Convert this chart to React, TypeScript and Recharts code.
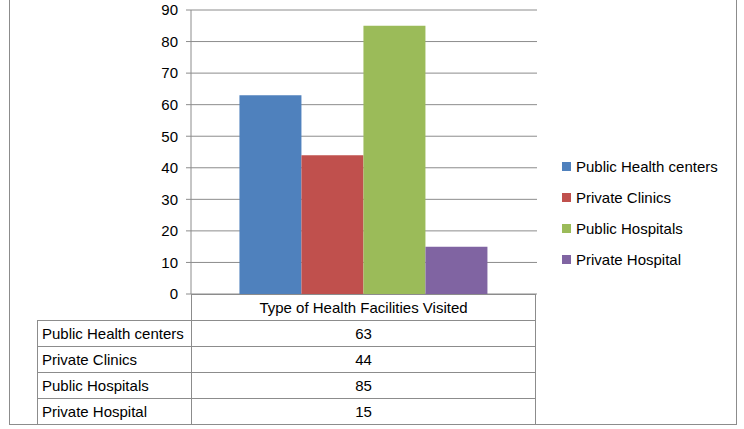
import { Bar, BarChart, CartesianGrid, XAxis, YAxis } from "recharts";

const categories = ["Type of Health Facilities Visited"];
const seriesNames = ["Public Health centers", "Private Clinics", "Public Hospitals", "Private Hospital"];
const seriesValues = [63, 44, 85, 15];
const seriesColors = ["#4F81BD", "#C0504D", "#9BBB59", "#8064A2"];
const yTicks = [0, 10, 20, 30, 40, 50, 60, 70, 80, 90];

const data = categories.map((name) => {
  const row: Record<string, string | number> = { name };
  seriesNames.forEach((s, i) => {
    row[s] = seriesValues[i];
  });
  return row;
});

const FONT = "'Liberation Sans', Arial, sans-serif";
const GRAY = "#8c8c8c";

function LegendBox() {
  return (
    <div style={{ position: "absolute", left: 562, top: 151, fontFamily: FONT, fontSize: 15, color: "#000" }}>
      {seriesNames.map((s, i) => (
        <div key={s} style={{ display: "flex", alignItems: "center", height: 31 }}>
          <span style={{ width: 9, height: 9, background: seriesColors[i], marginRight: 5 }} />
          <span>{s}</span>
        </div>
      ))}
    </div>
  );
}

export default function App() {
  const cell = { position: "absolute" as const, boxSizing: "border-box" as const, fontFamily: FONT, fontSize: 15, display: "flex", alignItems: "center" };
  return (
    <div style={{ position: "absolute", left: 0, top: 0, width: 744, height: 429, background: "#fff", overflow: "hidden" }}>
      <div style={{ position: "absolute", left: 9, top: -2, width: 728, height: 427, border: `1px solid ${GRAY}`, boxSizing: "border-box" }} />
      <div style={{ position: "absolute", left: 0, top: 0 }}>
        <BarChart width={744} height={429} data={data} margin={{ top: 10, right: 207, left: 131, bottom: 135 }} barCategoryGap="14%" barGap={0}>
          <CartesianGrid vertical={false} stroke={GRAY} />
          <XAxis dataKey="name" hide />
          <YAxis
            width={60}
            domain={[0, 90]}
            ticks={yTicks}
            interval={0}
            stroke={GRAY}
            tickSize={5}
            tickMargin={8}
            tick={{ fill: "#000", fontSize: 15, fontFamily: FONT }}
          />
          {seriesNames.map((s, i) => (
            <Bar key={s} dataKey={s} fill={seriesColors[i]} isAnimationActive={false} />
          ))}
        </BarChart>
      </div>
      <LegendBox />
      {/* data table */}
      <div style={{ ...cell, left: 191, top: 294, width: 345, height: 27, border: `1px solid ${GRAY}`, justifyContent: "center" }}>
        {categories[0]}
      </div>
      {seriesNames.map((s, i) => (
        <div key={s}>
          <div style={{ ...cell, left: 37, top: 320 + i * 26, width: 155, height: 27, border: `1px solid ${GRAY}`, paddingLeft: 4 }}>
            {s}
          </div>
          <div style={{ ...cell, left: 191, top: 320 + i * 26, width: 345, height: 27, border: `1px solid ${GRAY}`, justifyContent: "center" }}>
            {seriesValues[i]}
          </div>
        </div>
      ))}
    </div>
  );
}
